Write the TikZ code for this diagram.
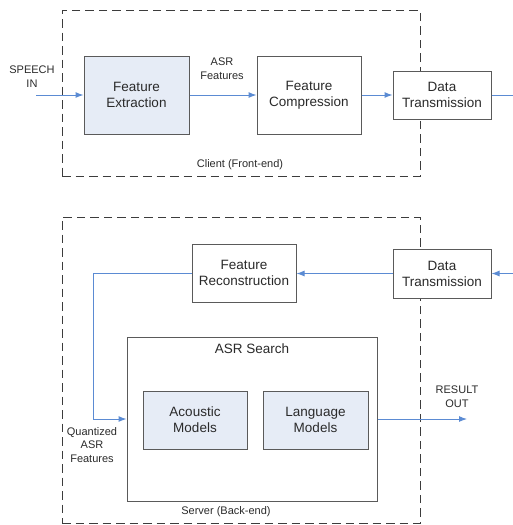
\documentclass[tikz,border=0pt]{standalone}
\usepackage{fontspec}
\setmainfont{Liberation Sans}
\usetikzlibrary{arrows.meta}
\definecolor{boxline}{HTML}{5A5A5A}
\definecolor{boxfill}{HTML}{E6ECF6}
\definecolor{flow}{HTML}{5B8BD3}
\definecolor{ink}{HTML}{2A2A2A}
\definecolor{frame}{HTML}{3C3C3C}
\tikzset{
  block/.style={draw=boxline, line width=1pt, fill=white, align=center,
    text=ink, font=\fontsize{13.5}{16}\selectfont, inner sep=0pt},
  shaded/.style={block, fill=boxfill},
  region/.style={draw=frame, line width=1pt, dash pattern=on 8.5pt off 5pt,
    inner sep=0pt},
  note/.style={align=center, text=ink, font=\fontsize{11}{13.7}\selectfont,
    inner sep=0pt},
  link/.style={draw=flow, line width=1pt,
    -{Latex[length=8pt,width=6pt]}},
}
\begin{document}
\begin{tikzpicture}[x=1pt,y=-1pt]
\useasboundingbox (0,0) rectangle (513,525);
% client and server regions
\node[region, minimum width=358pt, minimum height=166pt] (client) at (241,93) {};
\node[region, minimum width=358pt, minimum height=306pt] (server) at (241,370) {};
% front-end blocks
\node[shaded, minimum width=105pt, minimum height=78pt] (fe) at (136.5,95) {Feature\\Extraction};
\node[block, minimum width=104pt, minimum height=78pt] (fc) at (309,95) {Feature\\Compression};
\node[block, minimum width=98pt, minimum height=48pt] (dt1) at (442,95) {Data\\Transmission};
% back-end blocks
\node[block, minimum width=104pt, minimum height=58pt] (fr) at (244,273) {Feature\\Reconstruction};
\node[block, minimum width=98pt, minimum height=49pt] (dt2) at (442,273.5) {Data\\Transmission};
\node[block, minimum width=250pt, minimum height=164pt] (asr) at (252,419) {};
\node[block, anchor=north] at (asr.north) [yshift=-7pt, draw=none, fill=none] (asrtitle) {ASR Search};
\node[shaded, minimum width=104pt, minimum height=58pt] (am) at (195,420) {Acoustic\\Models};
\node[shaded, minimum width=105pt, minimum height=58pt] (lm) at (315.5,420) {Language\\Models};
% free ends
\coordinate (speech) at (36,95);
\coordinate (outtop) at (513,95);
\coordinate (inbot) at (513,273.5);
\coordinate (result) at (467,419);
% connectors
\draw[link] (speech) -- (fe.west);
\draw[link] (fe.east) -- (fc.west);
\draw[link] (fc.east) -- (dt1.west);
\draw[link, -] (dt1.east) -- (outtop);
\draw[link] (inbot) -- (dt2.east);
\draw[link] (dt2.west) -- (fr.east |- dt2.west);
\draw[link] (fr.west) -- ++(-98,0) |- (asr.west);
\draw[link] (asr.east) -- (result);
% labels
\node[note] (lspeech) at (32,77) {SPEECH\\IN};
\node[note] (lasr) at (222,69) {ASR\\Features};
\node[note] (lclient) at (240,165) {Client (Front-end)};
\node[note] (lquant) at (92,445) {Quantized\\ASR\\Features};
\node[note] (lresult) at (457,397) {RESULT\\OUT};
\node[note] (lserver) at (226,512) {Server (Back-end)};
\end{tikzpicture}
\end{document}
